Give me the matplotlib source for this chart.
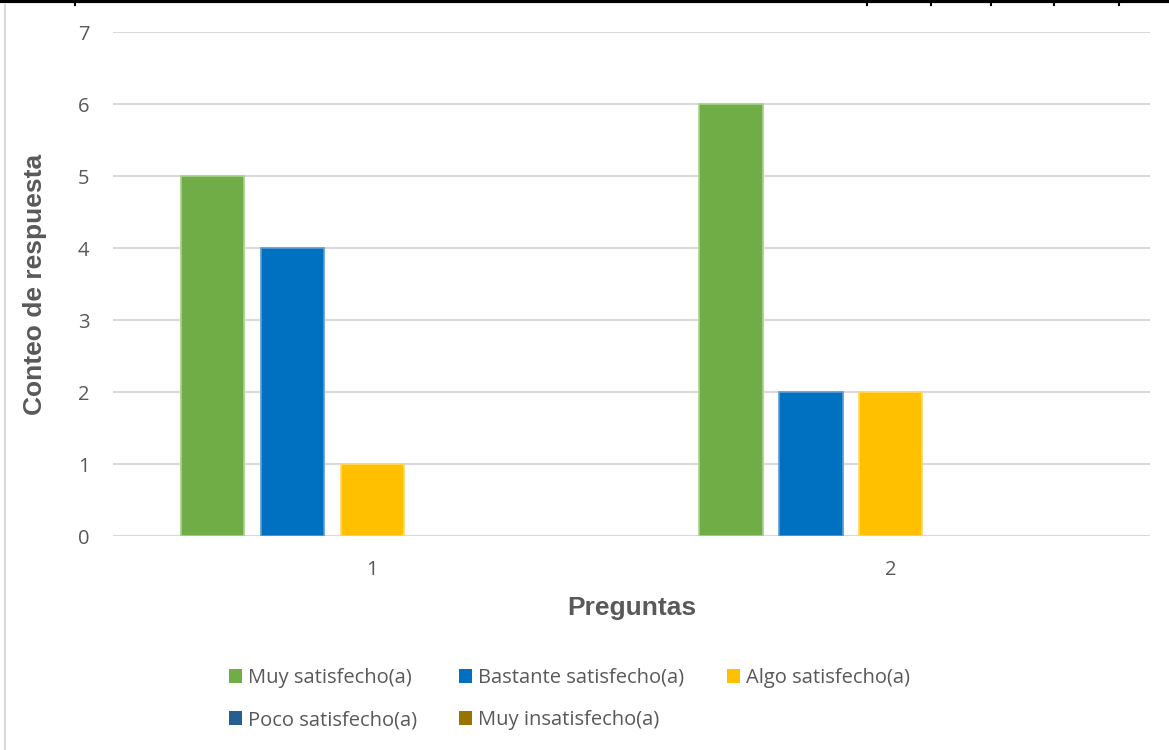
import numpy as np
import matplotlib.pyplot as plt
from matplotlib.lines import Line2D

preguntas = ["1", "2"]
series = ["Muy satisfecho(a)", "Bastante satisfecho(a)", "Algo satisfecho(a)",
          "Poco satisfecho(a)", "Muy insatisfecho(a)"]
muy_sat = [5, 6]
bastante_sat = [4, 2]
algo_sat = [1, 2]
poco_sat = [0, 0]
muy_insat = [0, 0]
valores = [muy_sat, bastante_sat, algo_sat, poco_sat, muy_insat]

colores = ["#70AD47", "#0070C0", "#FFC000", "#255E91", "#997300"]
bordes = ["#A9D18E", "#5B9BD5", "#FFD966", "#255E91", "#997300"]

plt.rcParams['font.family'] = ['Open Sans', 'DejaVu Sans']
gris = "#595959"

fig = plt.figure(figsize=(11.69, 7.5), dpi=100)
ax = fig.add_axes([0.0967, 0.2853, 0.887, 0.672])

x = np.arange(len(preguntas))
ancho = 0.122
paso = 0.154
barras = []
for i, vals in enumerate(valores):
    lw = [1.2 if v > 0 else 0 for v in vals]
    b = ax.bar(x + (i - 2) * paso, vals, ancho, color=colores[i],
               edgecolor=bordes[i], linewidth=lw, zorder=3, label=series[i])
    barras.append(b)

ax.set_xlim(-0.5, 1.5)
ax.set_ylim(0, 7)
ax.set_yticks(range(0, 8))
ax.set_xticks(x)
ax.set_xticklabels(preguntas)
ax.tick_params(length=0, labelsize=14.5, labelcolor=gris, pad=17)
ax.tick_params(axis='y', pad=17)
ax.yaxis.grid(True, color="#D9D9D9", linewidth=1.5, zorder=0)
for s in ax.spines.values():
    s.set_visible(False)
ax.axhline(0, color="#D9D9D9", linewidth=1.5, zorder=2)

ax.set_ylabel("Conteo de respuesta", fontsize=19, fontweight='bold', color=gris,
              family=['Liberation Sans', 'DejaVu Sans'], labelpad=22)
ax.set_xlabel("Preguntas", fontsize=19, fontweight='bold', color=gris,
              family=['Liberation Sans', 'DejaVu Sans'], labelpad=12)

orden = [0, 3, 1, 4, 2]
h = [barras[i] for i in orden]
l = [series[i] for i in orden]
leg = fig.legend(h, l, ncol=3, loc='center', bbox_to_anchor=(0.487, 0.068),
                 frameon=False, fontsize=14.5, labelcolor=gris, handlelength=0.65,
                 handleheight=0.65, handletextpad=0.3, columnspacing=2.1,
                 labelspacing=1.1)
for hh in leg.legend_handles:
    hh.set_linewidth(0)

# bordes de la tabla / marco
fig.add_artist(Line2D([0, 1], [0.9985, 0.9985], color="black", linewidth=3,
                      transform=fig.transFigure))
for xp in [75, 867, 931, 991, 1054, 1119]:
    fig.add_artist(Line2D([xp / 1169, xp / 1169], [1, 0.994], color="black",
                          linewidth=1.5, transform=fig.transFigure))
fig.add_artist(Line2D([5 / 1169, 5 / 1169], [0.994, 0], color="#D9D9D9",
                      linewidth=1.5, transform=fig.transFigure))

fig.savefig("out.png", dpi=100)
